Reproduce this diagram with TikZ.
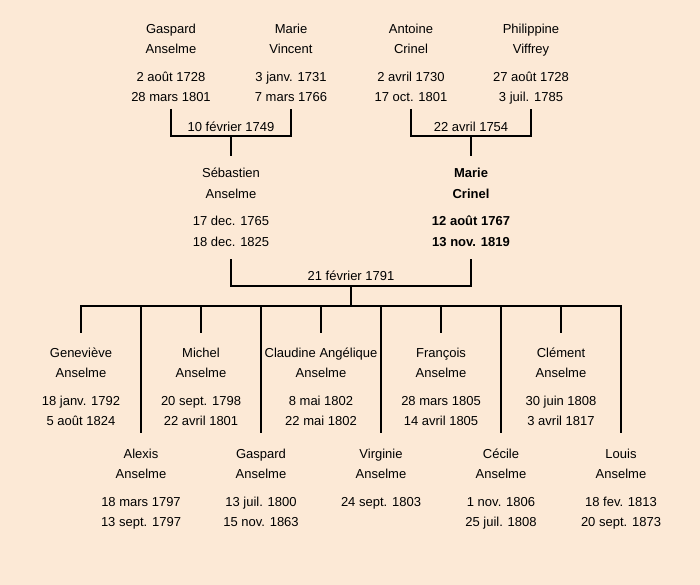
\documentclass[tikz,border=0pt]{standalone}
\usepackage{fontspec}
\setmainfont{Liberation Sans}
\definecolor{bg}{RGB}{252,233,214}
\newcommand\pinfo[4]{\rule{0pt}{12pt}#1\\#2\\[7.5pt]#3\\#4\rule[-4pt]{0pt}{4pt}}
\tikzset{
  person/.style={align=center, inner sep=0pt, anchor=north, font=\fontsize{13}{20.3}\selectfont},
  wed/.style={inner sep=0pt, anchor=base, font=\fontsize{13}{16}\selectfont},
  link/.style={draw=black, line width=2pt},
}
\begin{document}
\begin{tikzpicture}[x=1pt,y=-1pt]
\fill[bg] (0,0) rectangle (700,585);
\useasboundingbox (0,0) rectangle (700,585);
% grandparents
\node[person] (gA) at (171,21) {\pinfo{Gaspard}{Anselme}{2 août 1728}{28 mars 1801}};
\node[person] (mV) at (291,21) {\pinfo{Marie}{Vincent}{3 janv. 1731}{7 mars 1766}};
\node[person] (aC) at (411,21) {\pinfo{Antoine}{Crinel}{2 avril 1730}{17 oct. 1801}};
\node[person] (pV) at (531,21) {\pinfo{Philippine}{Viffrey}{27 août 1728}{3 juil. 1785}};
\node[wed] (w1) at (231,131.5) {10 février 1749};
\node[wed] (w2) at (471,131.5) {22 avril 1754};
% parents
\node[person] (sA) at (231,165.5) {\pinfo{Sébastien}{Anselme}{17 dec. 1765}{18 dec. 1825}};
\node[person, font=\fontsize{13}{20.3}\selectfont\bfseries] (mC) at (471,165.5) {\pinfo{Marie}{Crinel}{12 août 1767}{13 nov. 1819}};
\node[wed] (w3) at (351,280) {21 février 1791};
% children
\node[person] (c1) at (81,345) {\pinfo{Geneviève}{Anselme}{18 janv. 1792}{5 août 1824}};
\node[person] (c2) at (141,446) {\pinfo{Alexis}{Anselme}{18 mars 1797}{13 sept. 1797}};
\node[person] (c3) at (201,345) {\pinfo{Michel}{Anselme}{20 sept. 1798}{22 avril 1801}};
\node[person] (c4) at (261,446) {\pinfo{Gaspard}{Anselme}{13 juil. 1800}{15 nov. 1863}};
\node[person] (c5) at (321,345) {\pinfo{Claudine Angélique}{Anselme}{8 mai 1802}{22 mai 1802}};
\node[person] (c6) at (381,446) {\pinfo{Virginie}{Anselme}{24 sept. 1803}{}};
\node[person] (c7) at (441,345) {\pinfo{François}{Anselme}{28 mars 1805}{14 avril 1805}};
\node[person] (c8) at (501,446) {\pinfo{Cécile}{Anselme}{1 nov. 1806}{25 juil. 1808}};
\node[person] (c9) at (561,345) {\pinfo{Clément}{Anselme}{30 juin 1808}{3 avril 1817}};
\node[person] (c10) at (621,446) {\pinfo{Louis}{Anselme}{18 fev. 1813}{20 sept. 1873}};
% junctions
\coordinate (j1) at (231,136);
\coordinate (j2) at (471,136);
\coordinate (j3) at (351,286);
\coordinate (bar) at (351,305.7);
% connectors
\draw[link] ([yshift=-3pt]gA.south) |- (j1) -| ([yshift=-3pt]mV.south);
\draw[link] (j1) -- ([yshift=9.5pt]sA.north);
\draw[link] ([yshift=-3pt]aC.south) |- (j2) -| ([yshift=-3pt]pV.south);
\draw[link] (j2) -- ([yshift=9.5pt]mC.north);
\draw[link] ([yshift=-9pt]sA.south) |- (j3) -| ([yshift=-9pt]mC.south);
\draw[link] (j3) -- (bar);
\draw[link, line cap=rect] (c1.north |- bar) -- (c10.north |- bar);
\foreach \c in {c1,c3,c5,c7,c9} {\draw[link] (\c.north |- bar) -- ([yshift=12pt]\c.north);}
\foreach \c in {c2,c4,c6,c8,c10} {\draw[link] (\c.north |- bar) -- ([yshift=13pt]\c.north);}
\end{tikzpicture}
\end{document}
